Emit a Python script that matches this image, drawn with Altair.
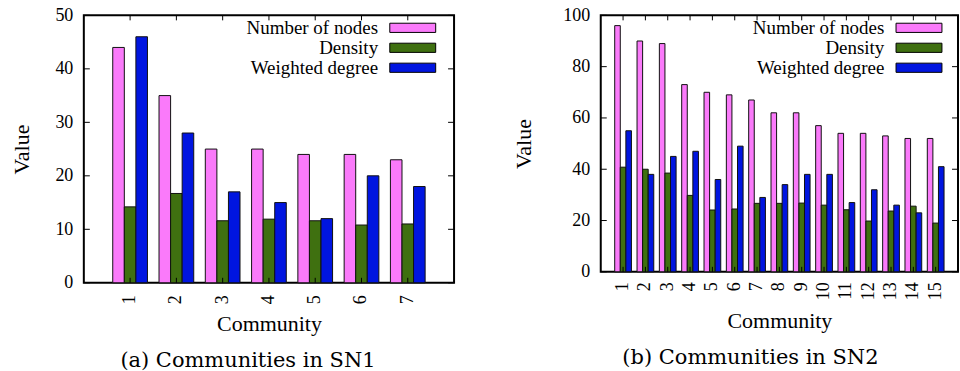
import altair as alt
import pandas as pd

series = ["Number of nodes", "Density", "Weighted degree"]
colors = ["#fa7afa", "#3f7010", "#0015e0"]

sn1_comm = [1, 2, 3, 4, 5, 6, 7]
sn1_nodes = [44, 35, 25, 25, 24, 24, 23]
sn1_density = [14.2, 16.7, 11.6, 11.9, 11.6, 10.8, 11.0]
sn1_weighted = [46, 28, 17, 15, 12, 20, 18]

sn2_comm = list(range(1, 16))
sn2_nodes = [96, 90, 89, 73, 70, 69, 67, 62, 62, 57, 54, 54, 53, 52, 52]
sn2_density = [40.8, 40.0, 38.5, 29.8, 24.1, 24.5, 26.7, 26.7, 26.8, 26.0, 24.2, 19.8, 23.7, 25.6, 19.0]
sn2_weighted = [55, 38, 45, 47, 36, 49, 29, 34, 38, 38, 27, 32, 26, 23, 41]

sn1_yticks = [0, 10, 20, 30, 40, 50]
sn2_yticks = [0, 20, 40, 60, 80, 100]

FONT = "Times New Roman, Liberation Serif, serif"


def long_df(comm, nodes, density, weighted):
    rows = []
    for c, a, b, w in zip(comm, nodes, density, weighted):
        rows.append({"Community": c, "Series": series[0], "Value": a})
        rows.append({"Community": c, "Series": series[1], "Value": b})
        rows.append({"Community": c, "Series": series[2], "Value": w})
    return pd.DataFrame(rows)


def panel(comm, nodes, density, weighted, yticks, ymax, W, H, caption,
          legend_x, title_pad_y, title_pad_x, label_pad_x, caption_dx):
    df = long_df(comm, nodes, density, weighted)
    xscale = alt.Scale(paddingInner=0.25, paddingOuter=0.625)
    yscale = alt.Scale(domain=[0, ymax], nice=False)
    bars = alt.Chart(df).mark_bar(stroke="#111111", strokeWidth=1).encode(
        x=alt.X("Community:O", sort=comm, scale=xscale,
                axis=alt.Axis(title="Community", labelAngle=270, labelPadding=label_pad_x,
                              tickSize=0, domain=False, titlePadding=title_pad_x,
                              labelFont=FONT, labelFontSize=18, labelColor="black",
                              titleFont=FONT, titleFontSize=22, titleFontWeight="normal",
                              titleColor="black")),
        xOffset=alt.XOffset("Series:N", sort=series, scale=alt.Scale(paddingInner=0, paddingOuter=0)),
        y=alt.Y("Value:Q", scale=yscale,
                axis=alt.Axis(title="Value", values=yticks, tickSize=0, domain=False,
                              grid=False, labelPadding=11, titlePadding=title_pad_y,
                              labelFont=FONT, labelFontSize=18, labelColor="black",
                              titleFont=FONT, titleFontSize=22, titleFontWeight="normal",
                              titleColor="black")),
        color=alt.Color("Series:N", sort=series,
                        scale=alt.Scale(domain=series, range=colors),
                        legend=alt.Legend(orient="none", legendX=legend_x, legendY=3,
                                          title=None, padding=0,
                                          symbolType="M4.6,-1H14.58V1H4.6Z", symbolSize=85,
                                          symbolStrokeColor="black", symbolStrokeWidth=1,
                                          labelAlign="right", labelOffset=0,
                                          labelFont=FONT, labelFontSize=19,
                                          labelColor="black", rowPadding=0,
                                          labelLimit=300)),
    )
    tdf = pd.DataFrame({"v": yticks})
    ytick_l = alt.Chart(tdf).mark_rule(color="black", strokeWidth=1).encode(
        y=alt.Y("v:Q", scale=yscale), x=alt.value(0), x2=alt.value(6))
    ytick_r = alt.Chart(tdf).mark_rule(color="black", strokeWidth=1).encode(
        y=alt.Y("v:Q", scale=yscale), x=alt.value(W - 6), x2=alt.value(W))
    cdf = pd.DataFrame({"Community": comm})
    xtick_b = alt.Chart(cdf).mark_rule(color="black", strokeWidth=1).encode(
        x=alt.X("Community:O", sort=comm, scale=xscale), y=alt.value(H - 5), y2=alt.value(H))
    xtick_t = alt.Chart(cdf).mark_rule(color="black", strokeWidth=1).encode(
        x=alt.X("Community:O", sort=comm, scale=xscale), y=alt.value(0), y2=alt.value(5))
    return alt.layer(bars, ytick_l, ytick_r, xtick_b, xtick_t).properties(
        width=W, height=H,
        title=alt.TitleParams(caption, orient="bottom", font="DejaVu Serif",
                              fontSize=21, fontWeight="normal", color="black",
                              offset=15, dx=caption_dx),
    )


left = panel(sn1_comm, sn1_nodes, sn1_density, sn1_weighted, sn1_yticks, 50,
             371, 268, "(a) Communities in SN1", 275.9, 21, 10, 12, -21)
right = panel(sn2_comm, sn2_nodes, sn2_density, sn2_weighted, sn2_yticks, 100,
              358, 257, "(b) Communities in SN2", 265.2, 27, 11, 10, -29)

chart = alt.hconcat(left, right, spacing=56).resolve_scale(
    x="independent", xOffset="independent", y="independent"
).resolve_legend(color="independent").configure(
    padding={"left": 10, "top": 5, "right": 0, "bottom": 0},
    background="white",
).configure_view(stroke="black", strokeWidth=2)

chart.save("out.html", embed_options={"renderer": "svg", "actions": False})
